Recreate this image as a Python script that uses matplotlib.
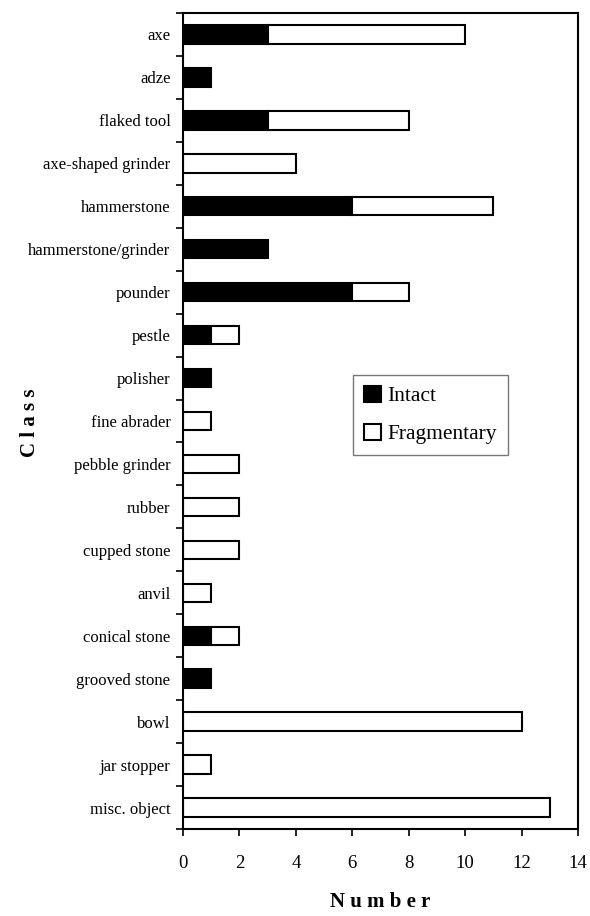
import matplotlib
matplotlib.use("Agg")
import matplotlib.pyplot as plt
import numpy as np

categories = ["axe", "adze", "flaked tool", "axe-shaped grinder", "hammerstone",
              "hammerstone/grinder", "pounder", "pestle", "polisher", "fine abrader",
              "pebble grinder", "rubber", "cupped stone", "anvil", "conical stone",
              "grooved stone", "bowl", "jar stopper", "misc. object"]
intact = [3, 1, 3, 0, 6, 3, 6, 1, 1, 0, 0, 0, 0, 0, 1, 1, 0, 0, 0]
fragmentary = [7, 0, 5, 4, 5, 0, 2, 1, 0, 1, 2, 2, 2, 1, 1, 0, 12, 1, 13]
xticks = [0, 2, 4, 6, 8, 10, 12, 14]

plt.rcParams['font.family'] = ['Liberation Serif', 'DejaVu Serif']

fig = plt.figure(figsize=(5.9, 9.16), dpi=100)
ax = fig.add_axes([183/590, 1-829/916, (578-183)/590, (829-13)/916])

n = len(categories)
y = np.arange(n)
h = 0.43
intact_a = np.array(intact)
frag_a = np.array(fragmentary)
mi = intact_a > 0
mf = frag_a > 0
ax.barh(y[mi], intact_a[mi], height=h, color='black', edgecolor='black', linewidth=1.5, label='Intact')
ax.barh(y[mf], frag_a[mf], left=intact_a[mf], height=h, color='white', edgecolor='black', linewidth=1.5, label='Fragmentary')

ax.set_ylim(n - 0.5, -0.5)
ax.set_xlim(0, 14)
ax.set_xticks(xticks)
ax.set_xticklabels([str(v) for v in xticks], fontsize=13.5)
ax.set_yticks(y)
ax.set_yticklabels(categories, fontsize=12)
ax.set_yticks(np.arange(-0.5, n, 1), minor=True)
ax.tick_params(axis='y', which='major', length=0, pad=9)
ax.tick_params(axis='y', which='minor', length=5, width=1.2, direction='out')
ax.tick_params(axis='x', which='major', length=5, width=1.2, direction='out', pad=14)
for s in ax.spines.values():
    s.set_linewidth(1.5)

ax.set_xlabel("N u m b e r", fontsize=15, fontweight='bold', va='center')
ax.set_ylabel("C l a s s", fontsize=15, fontweight='bold', va='center')
ax.xaxis.set_label_coords((380 - 183) / (578 - 183), -(902 - 829) / (829 - 13))
ax.yaxis.set_label_coords(-(183 - 30) / (578 - 183), (829 - 423) / (829 - 13))

leg = ax.legend(loc='upper left', bbox_to_anchor=(353/590, 1-375/916), bbox_transform=fig.transFigure,
                fontsize=15.5, frameon=True, fancybox=False, edgecolor='#555555',
                handlelength=0.8, handleheight=0.8, handletextpad=0.3, labelspacing=0.8,
                borderpad=0.5, borderaxespad=0)
leg.get_frame().set_linewidth(1.0)

fig.savefig("out.png", dpi=100)
